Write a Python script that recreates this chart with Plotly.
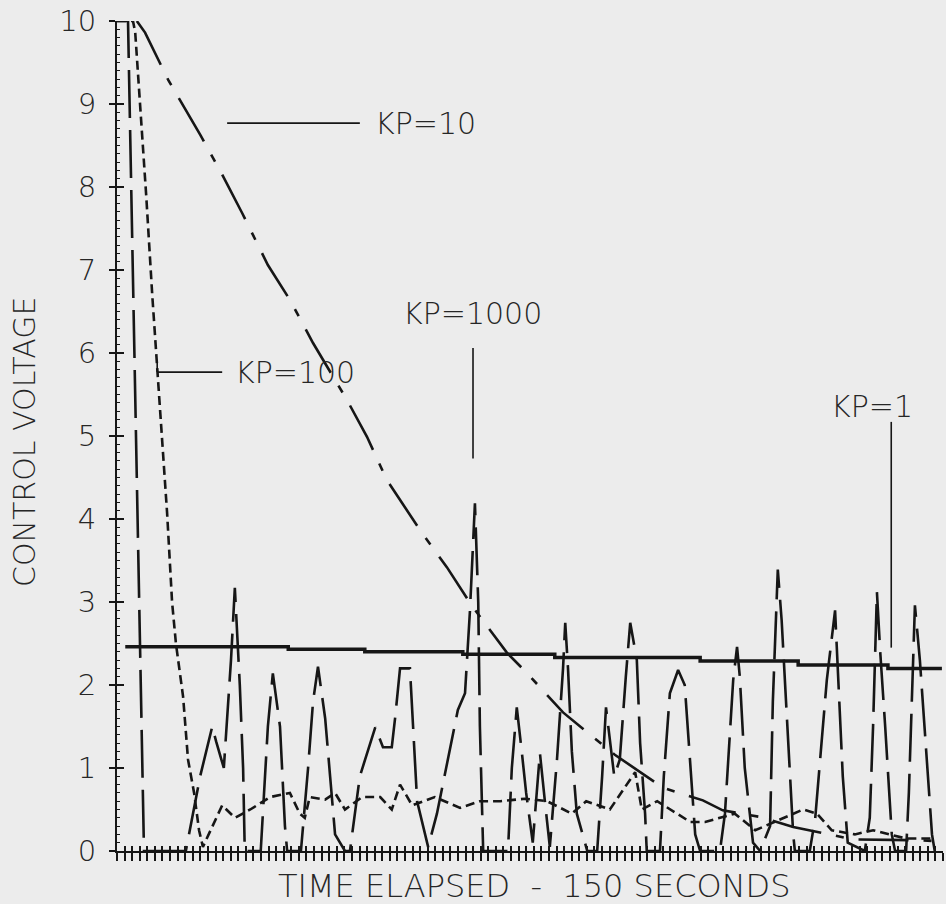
import plotly.graph_objects as go

# ---------------- data (time in seconds, control voltage in volts) ----------------
kp1000_t = [0.0, 2.0, 4.9, 12.5, 15.1, 17.3, 18.0, 19.4, 20.7, 21.4, 22.3, 22.9, 23.2, 26.1, 27.4, 28.3,
            29.6, 30.5, 30.9, 33.4, 34.7, 35.6, 36.5, 37.8, 38.7, 39.6, 41.4, 42.3, 44.1, 46.9, 48.3,
            49.9, 50.5, 51.4, 53.2, 53.8, 54.5, 56.5, 58.1, 61.9, 63.2, 64.1, 65.0, 65.6, 65.9, 66.5,
            71.0, 71.7, 72.6, 73.5, 74.3, 75.5, 76.8, 77.7, 78.6, 79.9, 81.0, 81.4, 81.9, 82.6, 83.5,
            85.4, 87.2, 88.1, 88.8, 90.3, 91.3, 92.4, 93.2, 94.4, 95.0, 95.9, 96.2, 98.6, 99.3, 100.4,
            101.9, 103.1, 104.1, 105.0, 105.9, 109.5, 110.4, 111.9, 112.6, 113.1, 114.0, 115.5, 116.8,
            118.6, 119.1, 120.0, 120.7, 121.7, 122.8, 123.1, 125.8, 126.8, 128.9, 130.4, 130.9, 131.8,
            132.7, 135.8, 136.7, 137.3, 138.0, 138.6, 139.5, 140.7, 141.3, 143.3, 143.8, 144.4, 144.9,
            145.8, 146.9, 148.0, 148.5]
kp1000_v = [10, 10, 0, 0, 0.9, 1.5, 1.32, 1.0, 2.3, 3.17, 2.0, 1.0, 0, 0, 1.5, 2.14,
            1.5, 0.3, 0, 0, 1.0, 1.8, 2.22, 1.6, 0.9, 0.2, 0, 0, 0.9, 1.49, 1.25,
            1.25, 1.6, 2.2, 2.2, 1.5, 0.6, 0.05, 0.45, 1.7, 1.9, 2.9, 4.19, 3.0, 1.5, 0,
            0, 1.0, 1.73, 1.2, 0.7, 0.1, 1.18, 0.6, 0.05, 1.1, 2.2, 2.75, 2.2, 1.2, 0.45,
            0, 0, 0.9, 1.73, 0.9, 1.1, 2.1, 2.75, 2.3, 1.3, 0.45, 0, 0, 0.9, 1.9,
            2.18, 2.0, 1.0, 0.2, 0, 0, 0.45, 2.06, 2.46, 2.1, 1.0, 0.1, 0,
            0.3, 1.8, 3.39, 2.78, 1.5, 0.2, 0, 0, 0.4, 2.06, 2.9, 2.2, 0.9,
            0.1, 0, 0.4, 1.5, 3.12, 2.4, 1.5, 0.2, 0, 0, 0.7, 1.9, 2.96,
            2.3, 1.2, 0.2, 0]

kp100_t = [0.0, 2.9, 3.3, 4.2, 5.3, 6.4, 7.3, 8.2, 9.1, 10.0, 10.7, 12.0, 12.9, 14.0, 14.9, 15.6,
           17.3, 19.1, 21.4, 24.2, 27.8, 31.4, 33.2, 34.1, 35.0, 37.8, 39.6, 41.4, 44.5, 47.8, 49.9,
           51.4, 53.6, 57.7, 62.3, 65.9, 69.6, 74.1, 78.1, 82.6, 85.2, 89.5, 94.1, 95.3, 98.1, 104.1,
           106.8, 112.2, 115.9, 124.6, 127.1, 129.8, 134.0, 137.3, 143.3, 148.0]
kp100_v = [10, 10, 9.87, 9.0, 7.9, 6.7, 5.83, 5.04, 4.07, 3.0, 2.5, 1.86, 1.1, 0.7, 0.25, 0.05,
           0.3, 0.55, 0.4, 0.5, 0.65, 0.7, 0.45, 0.4, 0.65, 0.62, 0.7, 0.5, 0.65, 0.65, 0.5,
           0.8, 0.55, 0.65, 0.52, 0.6, 0.6, 0.63, 0.6, 0.45, 0.6, 0.5, 0.95, 0.5, 0.6, 0.35,
           0.35, 0.45, 0.25, 0.5, 0.45, 0.25, 0.2, 0.25, 0.15, 0.15]

kp10_t = [3.6, 5.1, 9.3, 15.1, 18.7, 22.7, 27.4, 31.4, 35.6, 41.8, 45.4, 49.0, 55.4, 59.9, 64.6,
          70.8, 74.5, 81.0, 90.4, 99.2, 103.5, 106.4, 110.0, 116.8, 122.8, 129.5, 133.7, 145.3, 148.5]
kp10_v = [10, 9.86, 9.29, 8.63, 8.2, 7.69, 7.06, 6.64, 6.12, 5.43, 4.99, 4.47, 3.83, 3.42, 2.94,
          2.39, 2.14, 1.67, 1.16, 0.76, 0.67, 0.61, 0.49, 0.41, 0.29, 0.2, 0.14, 0.13, 0.12]

kp1_t = [1.5, 31.1, 45.0, 62.8, 79.5, 105.9, 123.7, 140.0, 149.8]
kp1_v = [2.46, 2.43, 2.40, 2.37, 2.33, 2.29, 2.24, 2.20, 2.20]

y_ticks = [0, 1, 2, 3, 4, 5, 6, 7, 8, 9, 10]
T_END = 150
N_TICK_INTERVALS = 109

# ---------------- styling ----------------
INK = "#161616"
TXT = "#262626"
BG = "#ececec"
FONT = "DejaVu Sans"

fig = go.Figure()

fig.add_trace(go.Scatter(x=kp1_t, y=kp1_v, mode="lines", line_shape="hv",
                         line=dict(color=INK, width=3.5), name="KP=1", hoverinfo="skip"))
fig.add_trace(go.Scatter(x=kp10_t, y=kp10_v, mode="lines",
                         line=dict(color=INK, width=2.6, dash="50px,15px,8px,15px"),
                         name="KP=10", hoverinfo="skip"))
fig.add_trace(go.Scatter(x=kp100_t, y=kp100_v, mode="lines",
                         line=dict(color=INK, width=2.6, dash="9px,5px"),
                         name="KP=100", hoverinfo="skip"))
fig.add_trace(go.Scatter(x=kp1000_t, y=kp1000_v, mode="lines",
                         line=dict(color=INK, width=2.6, dash="48px,12px"),
                         name="KP=1000", hoverinfo="skip"))
# invisible helper trace so the overlay axes (inside tick halves) are drawn
fig.add_trace(go.Scatter(x=[0], y=[0], xaxis="x2", yaxis="y2", mode="markers",
                         marker=dict(opacity=0), showlegend=False, hoverinfo="skip"))

# label pointer lines (annotation styling, not data)
pointer_lines = [
    (20.0, 8.77, 44.1, 8.77),
    (7.3, 5.89, 7.3, 5.77),
    (7.3, 5.77, 19.1, 5.77),
    (64.65, 6.06, 64.65, 4.73),
    (140.6, 5.17, 140.6, 2.45),
]
for x0, y0, x1, y1 in pointer_lines:
    fig.add_shape(type="line", x0=x0, y0=y0, x1=x1, y1=y1, xref="x", yref="y",
                  line=dict(color=INK, width=1.6))

labels = [
    ("KP=10", 46.4, 8.76, "left"),
    ("KP=100", 21.0, 5.76, "left"),
    ("KP=1000", 64.5, 6.47, "center"),
    ("KP=1", 137.1, 5.36, "center"),
]
for txt, x, y, xa in labels:
    fig.add_annotation(text=txt, x=x, y=y, xref="x", yref="y", xanchor=xa, yanchor="middle",
                       showarrow=False, font=dict(family=FONT, size=30, color=TXT, weight=200))

fig.add_annotation(text="TIME ELAPSED  -  150 SECONDS", x=0.5, y=0, xref="paper", yref="paper",
                   xanchor="center", yanchor="middle", yshift=-35, xshift=4, showarrow=False,
                   font=dict(family=FONT, size=32, color=TXT, weight=200))
fig.add_annotation(text="CONTROL VOLTAGE", x=0, y=0.5, xref="paper", yref="paper",
                   xanchor="center", yanchor="middle", xshift=-93, yshift=-6, textangle=-90,
                   showarrow=False, font=dict(family=FONT, size=30, color=TXT, weight=200))

fig.update_layout(
    width=946, height=904,
    margin=dict(l=117, r=3, t=21, b=53),
    paper_bgcolor=BG, plot_bgcolor=BG,
    showlegend=False,
    xaxis=dict(range=[0, T_END], showgrid=False, zeroline=False, showline=True,
               linecolor=INK, linewidth=2, ticks="outside", ticklen=8, tickwidth=1.5,
               tickcolor=INK, tick0=0, dtick=T_END / N_TICK_INTERVALS, showticklabels=False),
    xaxis2=dict(range=[0, T_END], overlaying="x", anchor="y2", showgrid=False, zeroline=False,
                showline=False, ticks="inside", ticklen=5, tickwidth=1.5, tickcolor=INK,
                tick0=0, dtick=T_END / N_TICK_INTERVALS, showticklabels=False),
    yaxis=dict(range=[0, 10], showgrid=False, zeroline=False, showline=True,
               linecolor=INK, linewidth=2, ticks="outside", ticklen=6, tickwidth=1.5,
               tickcolor=INK, tickmode="array", tickvals=y_ticks,
               ticktext=[str(v) for v in y_ticks], ticklabelstandoff=7,
               tickfont=dict(family=FONT, size=29, color=TXT, weight=200),
               minor=dict(ticks="inside", ticklen=3, dtick=0.1, tickwidth=1, tickcolor=INK)),
    yaxis2=dict(range=[0, 10], overlaying="y", anchor="x2", side="left", showgrid=False,
                zeroline=False, showline=False, ticks="inside", ticklen=7, tickwidth=1.5,
                tickcolor=INK, tickmode="array", tickvals=y_ticks, showticklabels=False),
)

fig.write_html("out.html")
